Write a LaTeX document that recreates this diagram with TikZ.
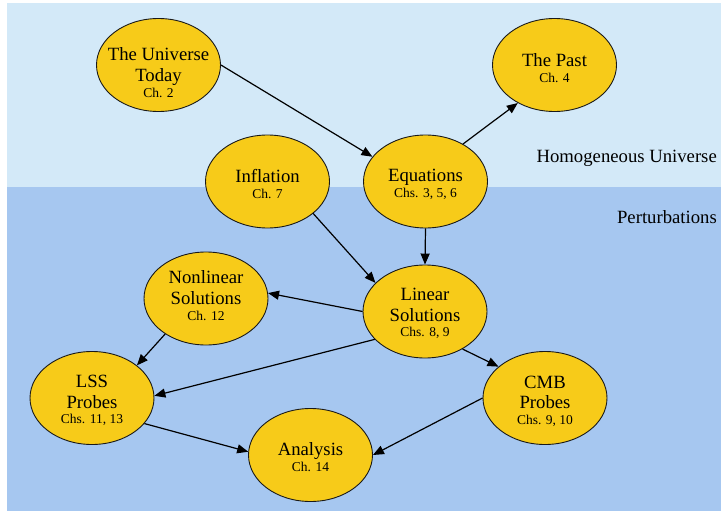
\documentclass[tikz,border=0pt]{standalone}
\usepackage{fontspec}
\setmainfont{Liberation Serif}
\usetikzlibrary{shapes.geometric,arrows.meta}
\definecolor{skyc}{RGB}{211,233,248}
\definecolor{waterc}{RGB}{166,199,240}
\definecolor{goldc}{RGB}{247,203,25}
\newcommand{\chref}[1]{{\fontsize{13.5}{16}\selectfont #1}}
\tikzset{
 bubble/.style={ellipse, draw=black!90, line width=0.9pt, fill=goldc, minimum width=124pt, minimum height=93pt, inner sep=0pt},
 btext/.style={align=center, font=\fontsize{18.7}{20.5}\selectfont, inner sep=0pt},
 link/.style={draw=black, line width=1.2pt, -{Triangle[length=11pt,width=9pt]}},
 region/.style={font=\fontsize{18.7}{20.5}\selectfont, inner sep=0pt, anchor=base east},
}
\begin{document}
\begin{tikzpicture}[x=1pt,y=-1pt]
\useasboundingbox (0,0) rectangle (721,514);
\fill[white] (0,0) rectangle (721,514);
\fill[skyc] (7,3) rectangle (721,187);
\fill[waterc] (7,187) rectangle (721,511);

\node[region] (hom) at (717,162) {Homogeneous Universe};
\node[region] (pert) at (717,223) {Perturbations};

\node[bubble] (ut) at (158.5,65) {};
\node[bubble] (past) at (554.5,65) {};
\node[bubble] (infl) at (267.5,181.5) {};
\node[bubble] (eq) at (425.5,181.5) {};
\node[bubble] (nonlin) at (206,298.5) {};
\node[bubble] (lin) at (425,311.5) {};
\node[bubble] (lss) at (92,398) {};
\node[bubble] (cmb) at (545,398) {};
\node[bubble] (ana) at (310.5,455) {};

\node[btext] (ut-t) at (158.5,72.5) {The Universe\\Today\\[-4.7pt]\chref{Ch. 2}};
\node[btext] (past-t) at (554.5,68.5) {The Past\\[-4.7pt]\chref{Ch. 4}};
\node[btext] (infl-t) at (267.5,184) {Inflation\\[-4.7pt]\chref{Ch. 7}};
\node[btext] (eq-t) at (425.5,184) {Equations\\[-4.7pt]\chref{Chs. 3, 5, 6}};
\node[btext] (nonlin-t) at (206,295.5) {Nonlinear\\Solutions\\[-4.7pt]\chref{Ch. 12}};
\node[btext] (lin-t) at (425,313.5) {Linear\\Solutions\\[-4.7pt]\chref{Chs. 8, 9}};
\node[btext] (lss-t) at (92,400.5) {LSS\\Probes\\[-4.7pt]\chref{Chs. 11, 13}};
\node[btext] (cmb-t) at (545,401) {CMB\\Probes\\[-4.7pt]\chref{Chs. 9, 10}};
\node[btext] (ana-t) at (310.5,457) {Analysis\\[-4.7pt]\chref{Ch. 14}};

\draw[link] (ut.0) -- (eq.155);
\draw[link] (eq.45) -- (past.226);
\draw[link] (infl.-35) -- (lin.150);
\draw[link] (eq.south) -- (lin.north);
\draw[link] (lin.180) -- (nonlin.5);
\draw[link] (nonlin.221) -- (lss.36);
\draw[link] (lin.209) -- (lss.2);
\draw[link] (lin.-45) -- (cmb.146);
\draw[link] (lss.-26) -- (ana.177);
\draw[link] (cmb.180) -- (ana.0);
\end{tikzpicture}
\end{document}
